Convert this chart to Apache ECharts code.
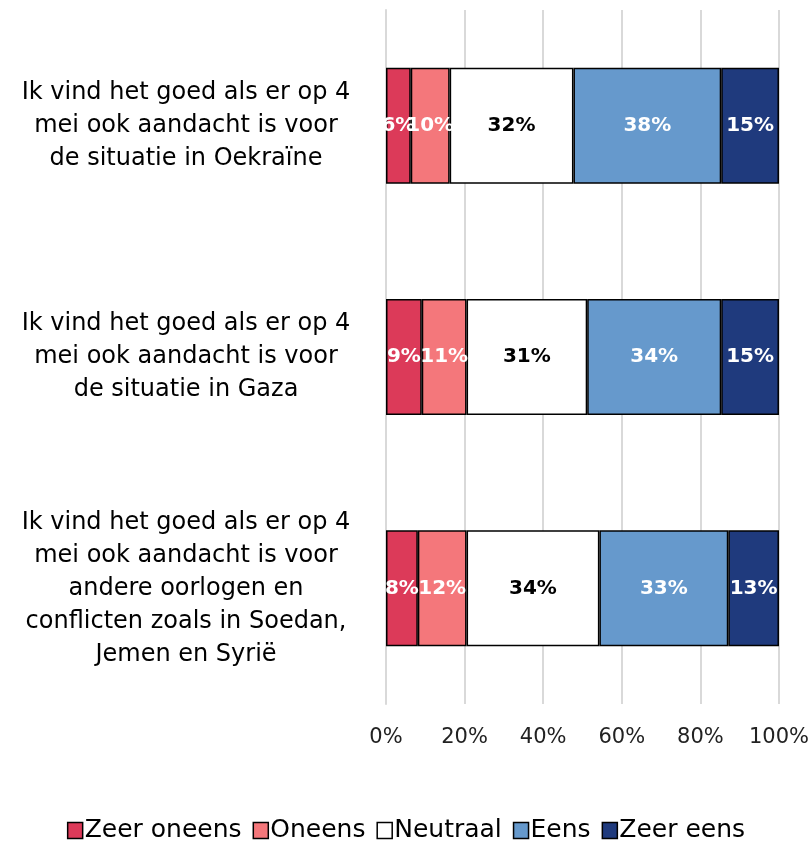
<!DOCTYPE html>
<html>
<head>
<meta charset="utf-8">
<style>
  html, body { margin: 0; padding: 0; background: #fff; }
  #chart { width: 812px; height: 848px; }
</style>
<script src="https://cdn.jsdelivr.net/npm/echarts@6/dist/echarts.min.js"></script>
</head>
<body>
<div id="chart"></div>
<script>
const categories = [
  'Ik vind het goed als er op 4\nmei ook aandacht is voor\nde situatie in Oekraïne',
  'Ik vind het goed als er op 4\nmei ook aandacht is voor\nde situatie in Gaza',
  'Ik vind het goed als er op 4\nmei ook aandacht is voor\nandere oorlogen en\nconflicten zoals in Soedan,\nJemen en Syrië'
];
const zeerOneens = [6.3, 9.1, 8.1];
const oneens = [9.9, 11.4, 12.4];
const neutraal = [31.5, 30.7, 33.8];
const eens = [37.6, 34.1, 32.8];
const zeerEens = [14.7, 14.7, 12.9];
const xTicks = [0, 20, 40, 60, 80, 100];

const FONT = 'DejaVu Sans';

function makeSeries(name, data, color, labelColor) {
  return {
    name, type: 'bar', stack: 'total', data,
    barWidth: 116,
    itemStyle: { color, borderColor: '#000', borderWidth: 1.5 },
    label: {
      show: true, position: 'inside',
      color: labelColor, fontFamily: FONT, fontWeight: 'bold', fontSize: 20,
      formatter: (p) => Math.round(p.value) + '%'
    }
  };
}

const chart = echarts.init(document.getElementById('chart'), null, { renderer: 'canvas' });
chart.setOption({
  animation: false,
  textStyle: { fontFamily: FONT },
  grid: { left: 386, right: 31, top: 10, bottom: 144, containLabel: false },
  legend: {
    bottom: 0, left: 'center',
    itemWidth: 15, itemHeight: 16, itemGap: 11,
    textStyle: { fontFamily: FONT, fontSize: 25, color: '#000', padding: [0, 0, 0, -3] },
    data: ['Zeer oneens', 'Oneens', 'Neutraal', 'Eens', 'Zeer eens'].map(n => ({
      name: n, icon: 'rect', itemStyle: { borderColor: '#000', borderWidth: 1.5 }
    }))
  },
  xAxis: {
    type: 'value', min: xTicks[0], max: xTicks[xTicks.length - 1], interval: 20,
    axisLine: { show: false }, axisTick: { show: false },
    splitLine: { show: true, lineStyle: { color: '#d9d9d9', width: 2 } },
    axisLabel: { formatter: '{value}%', fontFamily: FONT, fontSize: 21, color: '#222', margin: 23 }
  },
  yAxis: {
    type: 'category', data: categories, inverse: true,
    axisLine: { show: true, lineStyle: { color: '#d9d9d9', width: 2 } },
    axisTick: { show: false },
    axisLabel: {
      align: 'center', margin: 200, fontFamily: FONT, fontSize: 24,
      color: '#000', lineHeight: 33, padding: [6, 0, 0, 0]
    }
  },
  series: [
    makeSeries('Zeer oneens', zeerOneens, '#dc3a59', '#fff'),
    makeSeries('Oneens', oneens, '#f4777b', '#fff'),
    makeSeries('Neutraal', neutraal, '#ffffff', '#000'),
    makeSeries('Eens', eens, '#6699cc', '#fff'),
    makeSeries('Zeer eens', zeerEens, '#1f3a7d', '#fff')
  ]
});
</script>
</body>
</html>
